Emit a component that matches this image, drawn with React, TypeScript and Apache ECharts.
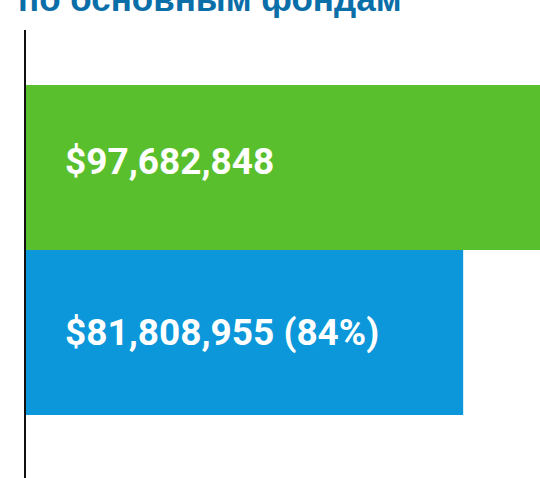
import React, { useEffect, useRef } from "react";
import * as echarts from "echarts";

const categories = ["Цель", "Собрано"];
const values = [97682848, 81808955];
const labels = ["$97,682,848", "$81,808,955 (84%)"];
const colors = ["#5abf2c", "#0b97d9"];
const titleText = "по основным фондам";

export default function App() {
  const ref = useRef<HTMLDivElement>(null);
  useEffect(() => {
    if (!ref.current) return;
    const chart = echarts.init(ref.current, undefined, { renderer: "svg" });
    chart.setOption({
      animation: false,
      title: {
        text: titleText,
        left: 13,
        top: -24,
        textStyle: {
          fontFamily: "Liberation Sans",
          fontWeight: "bold",
          fontSize: 35,
          color: "#0a6ea8",
        },
      },
      grid: { left: 26, top: 85, width: 522, height: 330, outerBoundsMode: "none" },
      xAxis: {
        type: "value",
        min: 0,
        max: values[0],
        show: false,
      },
      yAxis: {
        type: "category",
        data: categories,
        inverse: true,
        axisLine: { show: false },
        axisTick: { show: false },
        axisLabel: { show: false },
      },
      graphic: [
        {
          type: "line",
          shape: { x1: 25, y1: 30, x2: 25, y2: 478 },
          style: { stroke: "#111", lineWidth: 2 },
          z: 100,
        },
      ],
      series: [
        {
          type: "bar",
          barCategoryGap: 0,
          data: values.map((v, i) => ({
            value: v,
            itemStyle: { color: colors[i] },
            label: {
              show: true,
              position: "insideLeft",
              offset: [34, i === 0 ? -6 : 0],
              formatter: () => labels[i],
              color: "#fff",
              fontFamily: "Roboto",
              fontWeight: "bold",
              fontSize: 37,
            },
          })),
        },
      ],
    });
    return () => chart.dispose();
  }, []);
  return <div ref={ref} style={{ width: 540, height: 478, position: "absolute", left: 0, top: 0 }} />;
}
